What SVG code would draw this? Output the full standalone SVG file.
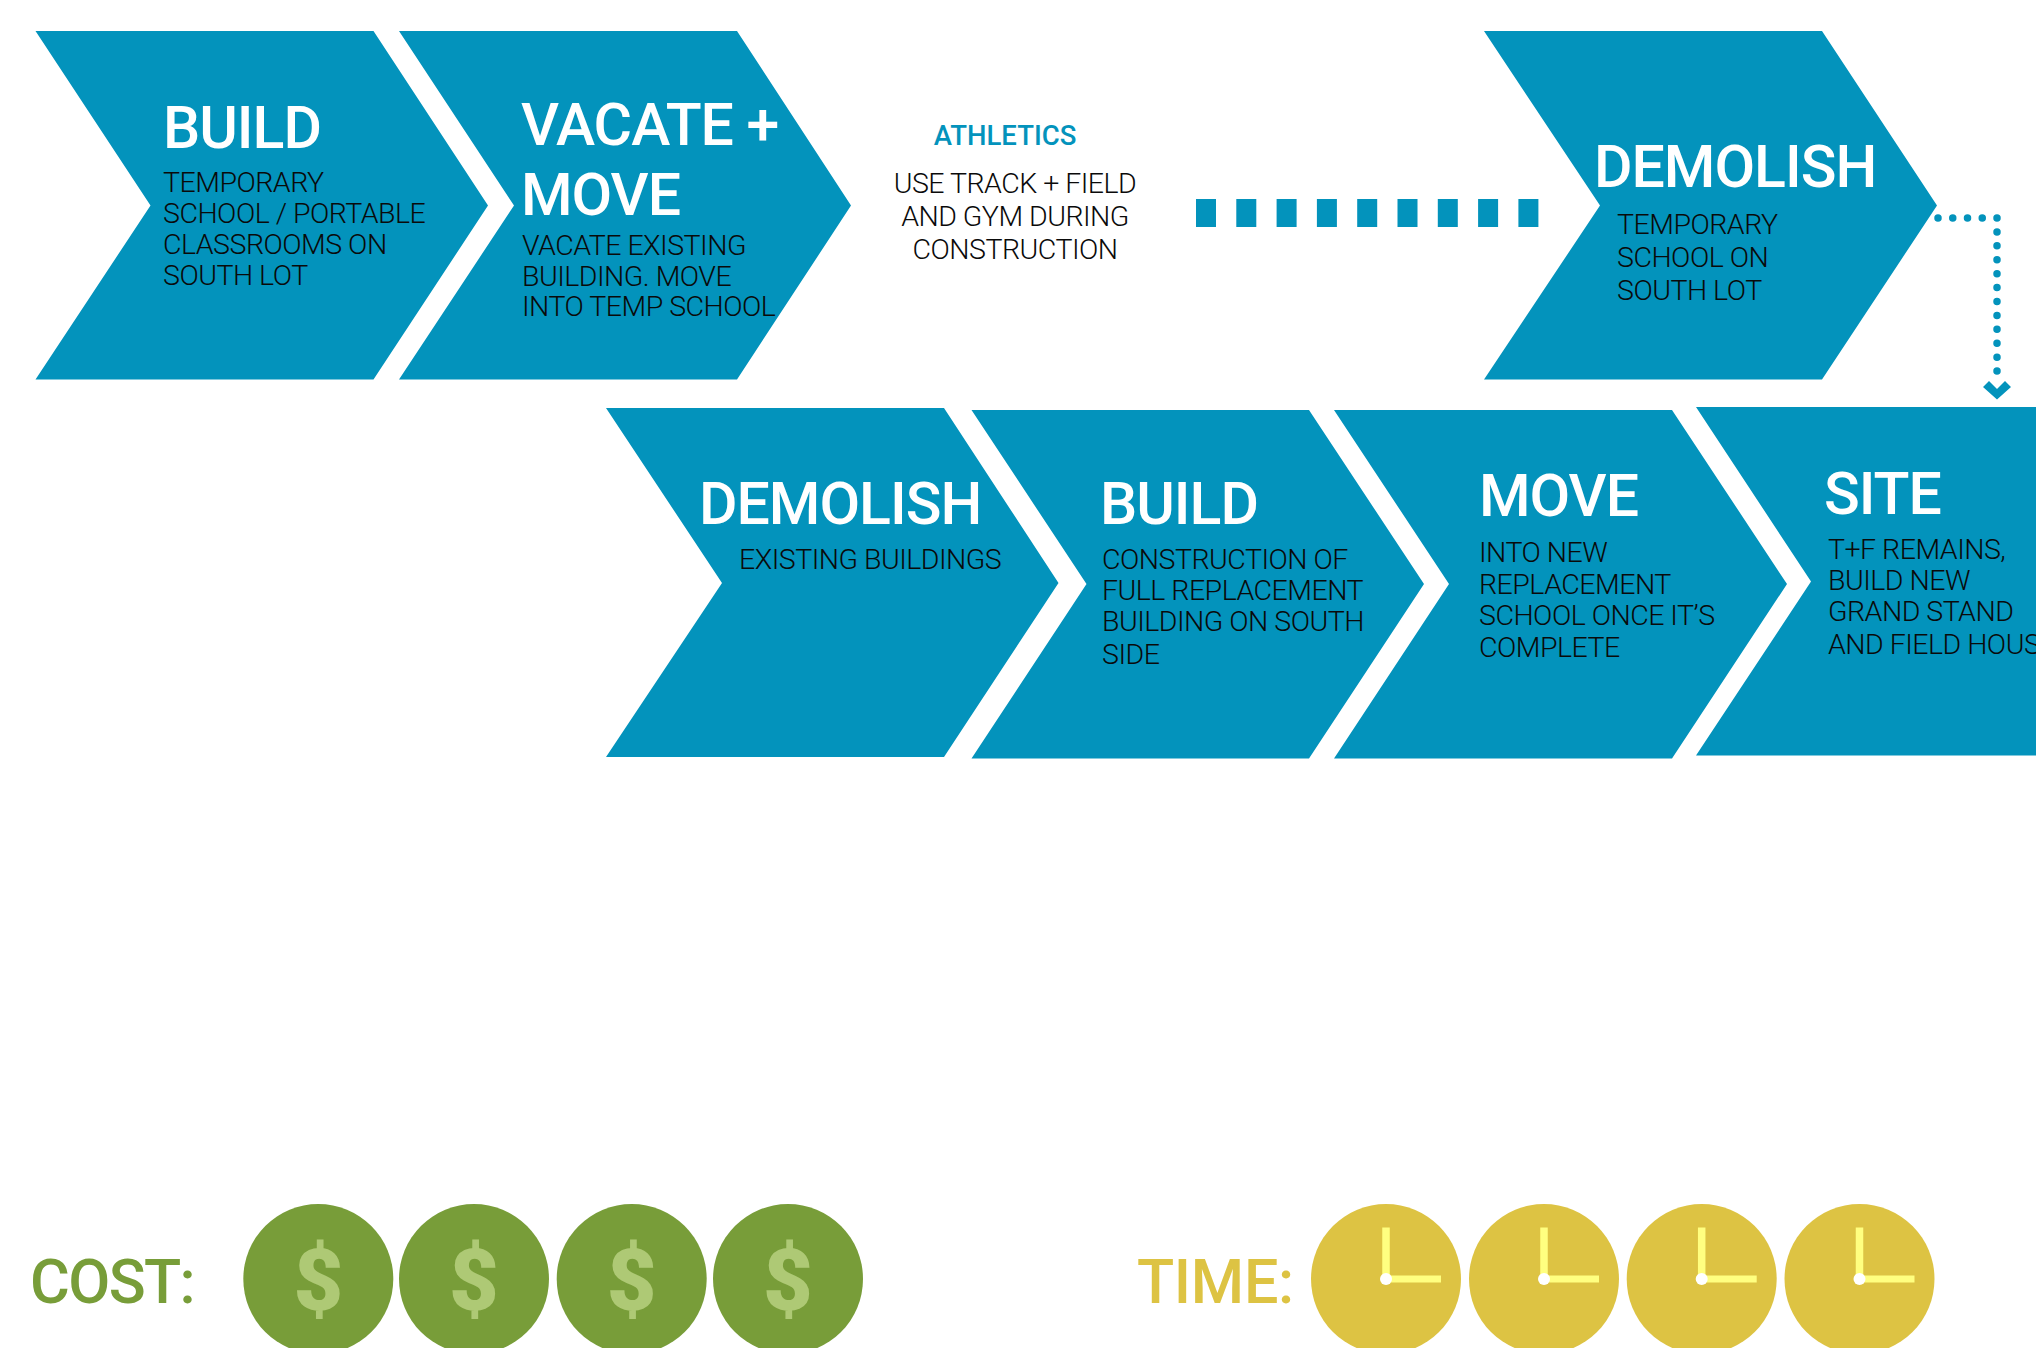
<svg xmlns="http://www.w3.org/2000/svg" width="2036" height="1348" viewBox="0 0 2036 1348">
<style>
.c{fill:#0393bc}
text{font-family:Roboto,"Liberation Sans",sans-serif}
.t{fill:#fff;font-size:59px;font-weight:500;letter-spacing:-1px}
.b{fill:#0a0a0a;font-size:28.5px;font-weight:300;letter-spacing:-.5px}
.d{fill:#aec975}
.g{fill:#789d39}
.y{fill:#ddc343}
.h{fill:#ffff80}
.dots{fill:none;stroke:#0393bc;stroke-width:7.500;stroke-linecap:round}
</style>
<defs>
<g id="dollar"><circle r="75" class="g"/><text y="31" text-anchor="middle" style="font-size:86px;font-weight:900;letter-spacing:0" class="d">$</text></g>
<g id="clock"><circle r="75" class="y"/><rect x="-3.750" y="-51.500" width="7.500" height="51.500" class="h"/><rect y="-3.500" width="55" height="7" class="h"/><circle r="6" fill="#fff"/></g>
</defs>
<rect width="2036" height="1348" fill="#fff"/>
<g id="n1"><polygon class="c" points="35.500,31 373.500,31 488,205.500 373.500,379.500 35.500,379.500 150.500,205.500"/><text class="t" x="163" y="148">BUILD</text><text class="b" x="163" y="192">TEMPORARY</text><text class="b" x="163" y="223">SCHOOL / PORTABLE</text><text class="b" x="163" y="254">CLASSROOMS ON</text><text class="b" x="163" y="285">SOUTH LOT</text></g>
<g id="n2"><polygon class="c" points="399,31 737,31 851,205.500 737,379.500 399,379.500 514,205.500"/><text class="t" x="521" y="145">VACATE +</text><text class="t" x="521" y="215">MOVE</text><text class="b" x="522" y="255">VACATE EXISTING</text><text class="b" x="522" y="286">BUILDING. MOVE</text><text class="b" x="522" y="316">INTO TEMP SCHOOL</text></g>
<g id="n3"><text x="1005" y="145" text-anchor="middle" style="font-size:27.500px;font-weight:500;fill:#0393bc">ATHLETICS</text><text class="b" x="1015" y="193" text-anchor="middle">USE TRACK + FIELD</text><text class="b" x="1015" y="226" text-anchor="middle">AND GYM DURING</text><text class="b" x="1015" y="259" text-anchor="middle">CONSTRUCTION</text></g>
<g id="n4"><polygon class="c" points="1484,31 1822,31 1937,205.500 1822,379.500 1484,379.500 1600,205.500"/><text class="t" x="1594" y="187">DEMOLISH</text><text class="b" x="1617" y="234">TEMPORARY</text><text class="b" x="1617" y="267">SCHOOL ON</text><text class="b" x="1617" y="300">SOUTH LOT</text></g>
<g id="n5"><polygon class="c" points="606,408 944,408 1058.500,583 944,757 606,757 722,583"/><text class="t" x="699" y="524">DEMOLISH</text><text class="b" x="739" y="569">EXISTING BUILDINGS</text></g>
<g id="n6"><polygon class="c" points="971.500,410 1309,410 1424,584 1309,758.500 971.500,758.500 1086.500,584"/><text class="t" x="1100" y="524">BUILD</text><text class="b" x="1102" y="569">CONSTRUCTION OF</text><text class="b" x="1102" y="600">FULL REPLACEMENT</text><text class="b" x="1102" y="631">BUILDING ON SOUTH</text><text class="b" x="1102" y="664">SIDE</text></g>
<g id="n7"><polygon class="c" points="1334,410 1672,410 1787,584 1672,758.500 1334,758.500 1449,584"/><text class="t" x="1479" y="516">MOVE</text><text class="b" x="1479" y="562">INTO NEW</text><text class="b" x="1479" y="594">REPLACEMENT</text><text class="b" x="1479" y="625">SCHOOL ONCE IT’S</text><text class="b" x="1479" y="657">COMPLETE</text></g>
<g id="n8"><polygon class="c" points="1696,407 2036,407 2036,755.500 1696,755.500 1811,581.500"/><text class="t" x="1824" y="514">SITE</text><text class="b" x="1828" y="559">T+F REMAINS,</text><text class="b" x="1828" y="590">BUILD NEW</text><text class="b" x="1828" y="621">GRAND STAND</text><text class="b" x="1828" y="654">AND FIELD HOUSE</text></g>
<g id="connectors">
<line x1="1196" y1="213" x2="1540" y2="213" stroke="#0393bc" stroke-width="28" stroke-dasharray="20 20.300"/>
<path class="dots" d="M1938 218H1997" stroke-dasharray="0 14.750"/>
<path class="dots" d="M1997 218V385" stroke-dasharray="0 13.917"/>
<polygon class="c" points="1983,387 1989,381 1997,389 2005,381 2011,387 1997,399.500"/>
</g>
<g id="cost"><text x="30" y="1303" style="font-size:61px;font-weight:500;fill:#789d39;letter-spacing:-1.600px">COST:</text><use href="#dollar" x="318.300" y="1279"/><use href="#dollar" x="474" y="1279"/><use href="#dollar" x="631.700" y="1279"/><use href="#dollar" x="788" y="1279"/></g>
<g id="time"><text x="1137" y="1303" style="font-size:61px;font-weight:500;fill:#ddc343;letter-spacing:-.3px">TIME:</text><use href="#clock" x="1386" y="1279"/><use href="#clock" x="1544" y="1279"/><use href="#clock" x="1701.700" y="1279"/><use href="#clock" x="1859.500" y="1279"/></g>
</svg>
